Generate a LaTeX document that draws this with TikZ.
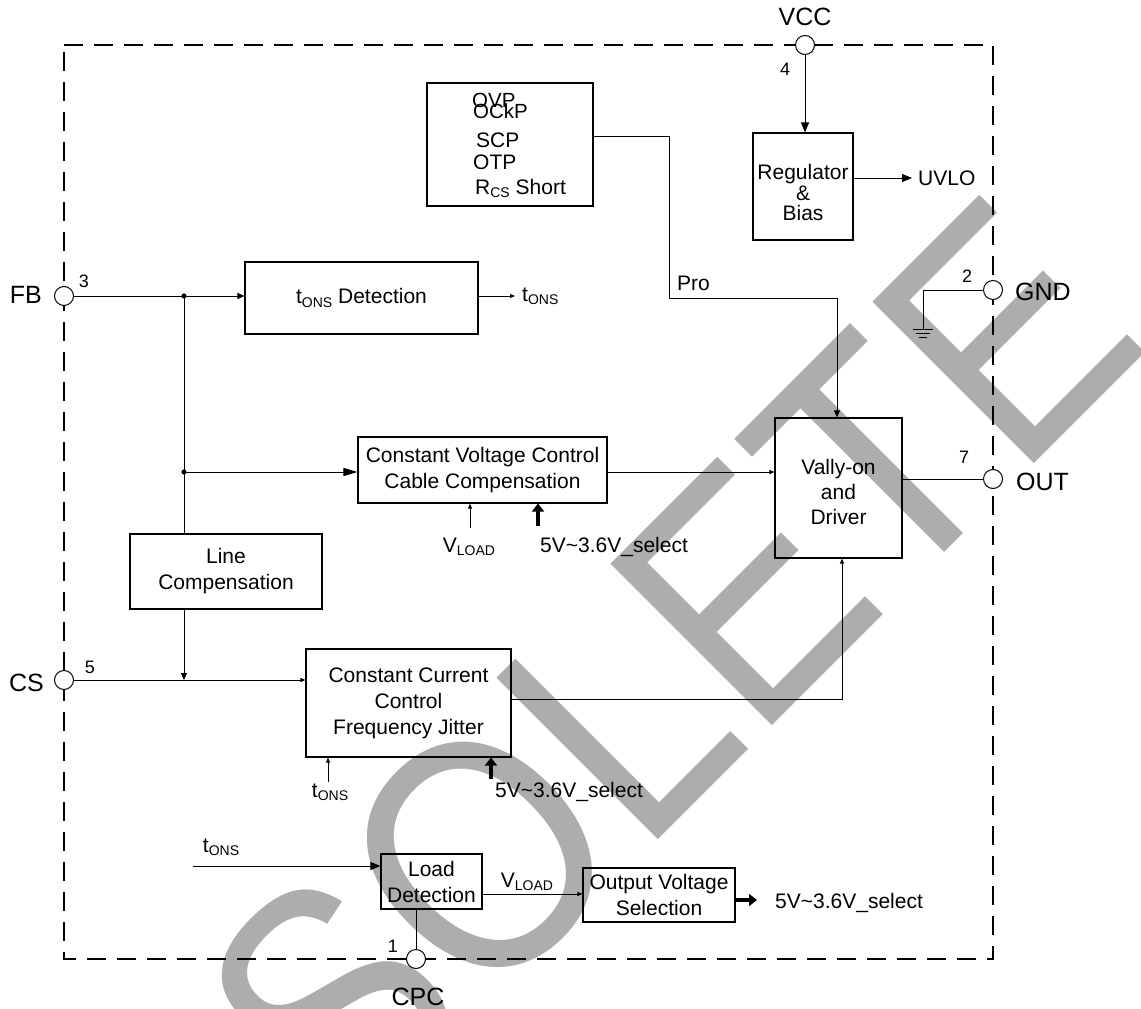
\documentclass[tikz,border=0pt]{standalone}
\usepackage{fontspec}
\setmainfont{Liberation Sans}
\usetikzlibrary{arrows.meta,calc}
\definecolor{wmgray}{RGB}{173,173,173}
\newcommand{\mysub}[1]{\raisebox{-0.3ex}{\fontsize{14}{14}\selectfont #1}}
\begin{document}
\begin{tikzpicture}[x=1pt,y=-1pt,
  blk/.style={draw, line width=1.1pt, inner sep=0pt, align=center, font=\fontsize{21}{26}\selectfont},
  pin/.style={circle, draw, fill=white, line width=1pt, minimum size=19pt, inner sep=0pt},
  lbl/.style={inner sep=0pt, align=center, font=\fontsize{21}{26}\selectfont},
  pinlbl/.style={inner sep=0pt, font=\fontsize{25}{30}\selectfont},
  num/.style={inner sep=0pt, font=\fontsize{18}{22}\selectfont},
  wire/.style={line width=1pt},
  arrL/.style={wire, -{Triangle[length=10pt,width=8pt]}},
  arrM/.style={wire, -{Triangle[length=7pt,width=6pt]}},
  arrS/.style={wire, -{Triangle[length=5pt,width=4pt]}},
  fat/.style={line width=3.5pt, -{Triangle[length=8pt,width=12pt]}},
  wm/.style={inner sep=0pt, text=wmgray, font=\fontsize{332}{340}\selectfont}
]
\useasboundingbox (0,0) rectangle (1141,1009);

% watermark
\node[wm, rotate=45, anchor=base east] (wmark) at (1153.8,343.5) {\scalebox{0.873}[1]{OBSOLETE}};

% chip border
\draw[line width=2.5pt, dash pattern=on 19pt off 11pt] (64,45) -- (993,45) -- (993,959) -- (64,959) -- cycle;

% blocks
\node[blk, minimum width=166pt, minimum height=123pt] (prot) at (510,144.5) {};
\node[blk, minimum width=100pt, minimum height=107pt] (reg) at (803,186.5) {};
\node[lbl, font=\fontsize{21}{20.5}\selectfont] (regt) at (803,192.5) {Regulator\\\&\\Bias};
\node[blk, minimum width=233pt, minimum height=72pt] (tdet) at (361.5,298) {t\mysub{ONS} Detection};
\node[blk, minimum width=249pt, minimum height=66pt] (cv) at (482.5,470) {Constant Voltage Control\\Cable Compensation};
\node[blk, minimum width=127pt, minimum height=140pt] (vally) at (838.5,488) {};
\node[lbl, font=\fontsize{21}{25}\selectfont] (vallyt) at (838.5,492) {Vally-on\\and\\Driver};
\node[blk, minimum width=192pt, minimum height=75pt] (linec) at (226,571.5) {Line\\Compensation};
\node[blk, minimum width=205pt, minimum height=108pt] (cc) at (408.5,703) {Constant Current\\Control\\Frequency Jitter};
\node[blk, minimum width=101pt, minimum height=55pt] (load) at (431.5,881.5) {Load\\Detection};
\node[blk, minimum width=152pt, minimum height=54pt] (ovs) at (659,895) {Output Voltage\\Selection};

% protection list
\node[lbl, anchor=base west, font=\fontsize{20.5}{24}\selectfont] (p1) at (472,107) {OVP};
\node[lbl, anchor=base west, font=\fontsize{20.5}{24}\selectfont] (p2) at (473,118) {OCkP};
\node[lbl, anchor=base west] (p3) at (476,147) {SCP};
\node[lbl, anchor=base west] (p4) at (473,169) {OTP};
\node[lbl, anchor=base west] (p5) at (475,194) {R\mysub{CS} Short};

% pins
\node[pin] (vcc) at (805,45) {};
\node[pin] (fb) at (64,296) {};
\node[pin] (cs) at (64,680) {};
\node[pin] (gnd) at (993,290) {};
\node[pin] (out) at (993,479) {};
\node[pin] (cpc) at (416,959) {};

\node[pinlbl, anchor=base] (vccl) at (805,25) {VCC};
\node[pinlbl, anchor=base east] (fbl) at (42,303) {FB};
\node[pinlbl, anchor=base east] (csl) at (44,691) {CS};
\node[pinlbl, anchor=base west] (gndl) at (1015,300) {GND};
\node[pinlbl, anchor=base west] (outl) at (1016,490) {OUT};
\node[pinlbl, anchor=base] (cpcl) at (418,1005) {CPC};

\node[num, anchor=base] (n4) at (785,75) {4};
\node[num, anchor=base] (n3) at (84,287) {3};
\node[num, anchor=base] (n2) at (967,282) {2};
\node[num, anchor=base] (n7) at (964,463) {7};
\node[num, anchor=base] (n5) at (90,673) {5};
\node[num, anchor=base] (n1) at (393,952) {1};

% signal labels
\node[lbl, anchor=base west] (uvlo) at (918,185) {UVLO};
\node[lbl, anchor=base west] (pro) at (677,290) {Pro};
\node[lbl, anchor=base west] (tons1) at (522,301) {t\mysub{ONS}};
\node[lbl, anchor=base] (vload1) at (469,552) {V\mysub{LOAD}};
\node[lbl, anchor=base west] (sel1l) at (540,552) {5V\textasciitilde 3.6V\_select};
\node[lbl, anchor=base] (tons2) at (330,797) {t\mysub{ONS}};
\node[lbl, anchor=base west] (sel2l) at (495,797) {5V\textasciitilde 3.6V\_select};
\node[lbl, anchor=base] (tons3) at (221,852) {t\mysub{ONS}};
\node[lbl, anchor=base] (vload2) at (527,887) {V\mysub{LOAD}};
\node[lbl, anchor=base west] (sel3l) at (775,908) {5V\textasciitilde 3.6V\_select};

% coordinates
\coordinate (j1) at (184,296);
\coordinate (j2) at (184,472);
\coordinate (vl1) at (470,528);
\coordinate (s1) at (538,526);
\coordinate (t2) at (328,782);
\coordinate (s2) at (491,779);
\coordinate (t3) at (193,866);
\coordinate (tend) at (515,296);
\coordinate (uvend) at (912,178);
\coordinate (s3) at (757,900);
\coordinate (gndc) at (923,290);
\coordinate (gndb) at (923,329);

% connectors
\draw[arrL] (vcc) -- (vcc |- reg.north);
\draw[arrL] (reg.east |- uvend) -- (uvend);
\draw[arrM] (prot.east |- 0,136) -| (669,298) -| (vally.north -| 837,0);
\draw[arrM] (fb) -- (tdet.west |- fb);
\draw[arrS] (tdet.east |- fb) -- (tend);
\draw[wire] (j1) -- (linec.north -| j1);
\draw[{Triangle[length=14pt,width=8pt]}-, wire] (cv.west |- j2) -- (j2);
\fill (j1) circle (2.6pt);
\fill (j2) circle (2.6pt);
\draw[arrS] (cv.east |- j2) -- (vally.west |- j2);
\draw[arrS] (vl1) -- (vl1 |- cv.south);
\draw[fat] (s1) -- (s1 |- cv.south);
\draw[arrM] (linec.south -| j1) -- (j1 |- cs);
\draw[arrS] (cs) -- (cc.west |- cs);
\draw[arrS] (cc.east |- 0,699) -| (vally.south -| 842,0);
\draw[arrS] (t2) -- (t2 |- cc.south);
\draw[fat] (s2) -- (s2 |- cc.south);
\draw[arrL] (t3) -- (load.west |- t3);
\draw[arrS] (load.east |- 0,894) -- (ovs.west |- 0,894);
\draw[wire] (load.south -| cpc) -- (cpc);
\draw[fat] (ovs.east |- s3) -- (s3);
\draw[wire] (vally.east |- out) -- (out);
\draw[wire] (gnd) -- (gndc) -- (gndb);
\draw[wire] (913,329) -- (933,329);
\draw[wire] (916,333) -- (930,333);
\draw[wire] (919,337) -- (927,337);
\end{tikzpicture}
\end{document}
